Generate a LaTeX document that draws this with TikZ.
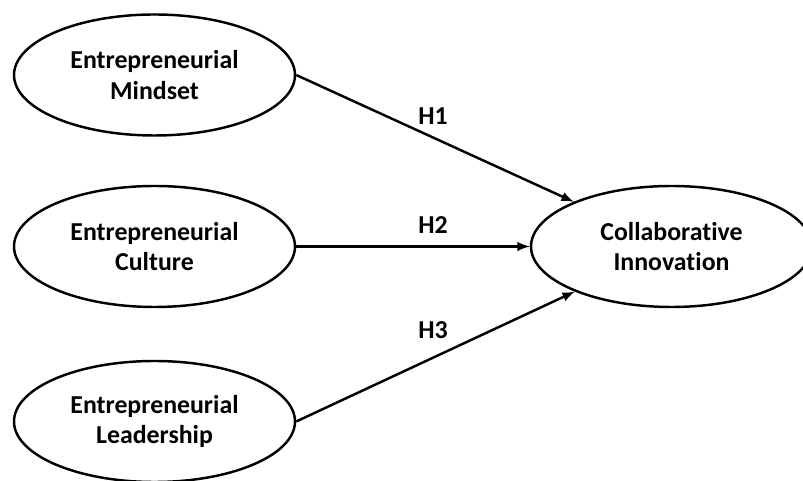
\documentclass[tikz,border=0pt]{standalone}
\usepackage{fontspec}
\setmainfont[Ligatures=NoCommon]{Carlito}
\usepackage{tikz}
\usetikzlibrary{shapes.geometric,calc}
\tikzset{>=latex}

\begin{document}
\begin{tikzpicture}[
    construct/.style={draw,line width=1.4pt,ellipse,minimum width=5.62cm,minimum height=2.42cm,
      align=center,font=\fontsize{14.7}{17.2}\selectfont\bfseries,inner sep=0pt},
    path/.style={->,line width=1.4pt},
    hyp/.style={font=\fontsize{14.7}{17.2}\selectfont\bfseries}]
  % frame of the picture
  \useasboundingbox (0,0) rectangle (16.06,9.62);

  % constructs
  \node[construct] (mindset)    at (3.09,8.12) {Entrepreneurial\\Mindset};
  \node[construct] (culture)    at (3.09,4.69) {Entrepreneurial\\Culture};
  \node[construct] (leadership) at (3.09,1.19) {Entrepreneurial\\Leadership};
  \node[construct] (collab)     at (13.43,4.69) {Collaborative\\Innovation};

  % hypotheses
  \draw[path] (mindset.east)    -- (collab);
  \draw[path] (culture.east)    -- (collab);
  \draw[path] (leadership.east) -- (collab);
  \node[hyp] (h1) at (8.66,7.30) {H1};
  \node[hyp] (h2) at (8.66,5.12) {H2};
  \node[hyp] (h3) at (8.66,3.02) {H3};

\end{tikzpicture}
\end{document}
